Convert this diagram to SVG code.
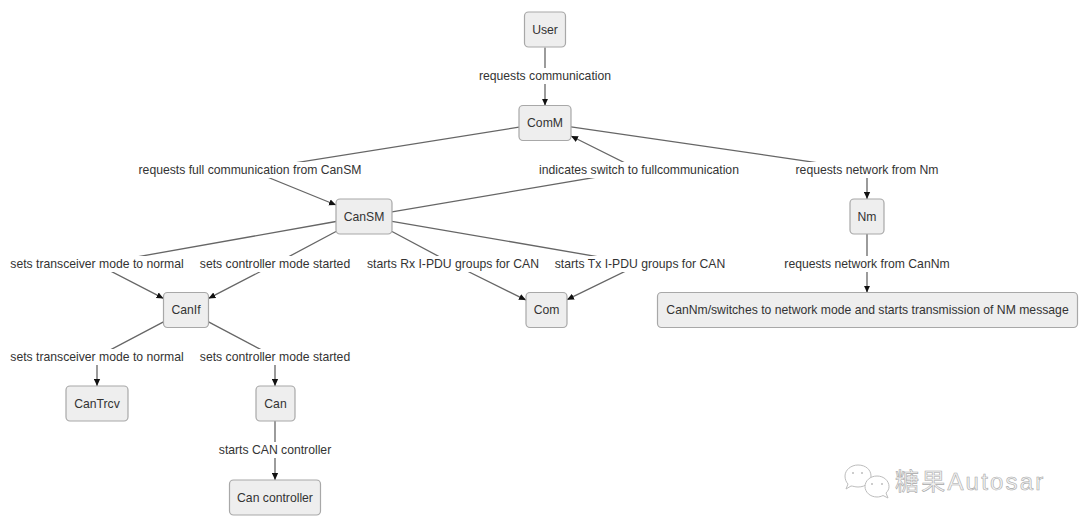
<svg xmlns="http://www.w3.org/2000/svg" width="1080" height="530" viewBox="0 0 1080 530">
<defs>
<style>
.node rect{fill:#eeeeee;stroke:#a8a8a8;stroke-width:1.2}
.node text{font-family:"Liberation Sans",Arial,sans-serif;font-size:12.2px;fill:#333;text-anchor:middle}
.edge polyline{fill:none;stroke:#666;stroke-width:1.3}
.lbl rect{fill:#fff}
.lbl text{font-family:"Liberation Sans",Arial,sans-serif;font-size:12.2px;fill:#333;text-anchor:middle}
</style>
<marker id="arr" viewBox="0 0 10 10" refX="10" refY="5" markerWidth="7" markerHeight="7" markerUnits="userSpaceOnUse" orient="auto">
<path d="M0,0.5 L10,5 L0,9.5 z" fill="#111"/>
</marker>
</defs>
<rect width="1080" height="530" fill="#fff"/>
<g id="connectors">
<g class="edge"><polyline points="545,47.5 545,105.5" marker-end="url(#arr)"/></g>
<g class="edge"><polyline points="519,127.1 250,170 336,205" marker-end="url(#arr)"/></g>
<g class="edge"><polyline points="392,211.8 639,170 571,136" marker-end="url(#arr)"/></g>
<g class="edge"><polyline points="571,126.8 867,170 867,199" marker-end="url(#arr)"/></g>
<g class="edge"><polyline points="336,221.5 97,264 163.5,298.4" marker-end="url(#arr)"/></g>
<g class="edge"><polyline points="336,231.5 275,264 208.5,298.4" marker-end="url(#arr)"/></g>
<g class="edge"><polyline points="392,231.5 453,264 526,300.1" marker-end="url(#arr)"/></g>
<g class="edge"><polyline points="392,221.3 640,264 567,299.7" marker-end="url(#arr)"/></g>
<g class="edge"><polyline points="867,234 867,292.5" marker-end="url(#arr)"/></g>
<g class="edge"><polyline points="163.5,321.9 97,357 97,386" marker-end="url(#arr)"/></g>
<g class="edge"><polyline points="208.5,321.9 275,357 275,386" marker-end="url(#arr)"/></g>
<g class="edge"><polyline points="275,421 275,480" marker-end="url(#arr)"/></g>
<g class="lbl"><rect x="478" y="68" width="134" height="16"/><text x="545" y="80">requests communication</text></g>
<g class="lbl"><rect x="137" y="162" width="226" height="16"/><text x="250" y="174">requests full communication from CanSM</text></g>
<g class="lbl"><rect x="537" y="162" width="204" height="16"/><text x="639" y="174">indicates switch to fullcommunication</text></g>
<g class="lbl"><rect x="794" y="162" width="146" height="16"/><text x="867" y="174">requests network from Nm</text></g>
<g class="lbl"><rect x="8" y="256" width="179" height="16"/><text x="97" y="268">sets transceiver mode to normal</text></g>
<g class="lbl"><rect x="198" y="256" width="155" height="16"/><text x="275" y="268">sets controller mode started</text></g>
<g class="lbl"><rect x="365" y="256" width="177" height="16"/><text x="453" y="268">starts Rx I-PDU groups for CAN</text></g>
<g class="lbl"><rect x="553" y="256" width="175" height="16"/><text x="640" y="268">starts Tx I-PDU groups for CAN</text></g>
<g class="lbl"><rect x="782" y="256" width="170" height="16"/><text x="867" y="268">requests network from CanNm</text></g>
<g class="lbl"><rect x="8" y="349" width="179" height="16"/><text x="97" y="361">sets transceiver mode to normal</text></g>
<g class="lbl"><rect x="198" y="349" width="155" height="16"/><text x="275" y="361">sets controller mode started</text></g>
<g class="lbl"><rect x="217" y="442" width="117" height="16"/><text x="275" y="454">starts CAN controller</text></g>
</g>
<g id="User" class="node"><rect x="524.5" y="12" width="41" height="35" rx="4"/><text x="545" y="33.5">User</text></g>
<g id="ComM" class="node"><rect x="519" y="105.5" width="52" height="35" rx="4"/><text x="545" y="127">ComM</text></g>
<g id="CanSM" class="node"><rect x="336" y="199" width="56" height="35" rx="4"/><text x="364" y="220.5">CanSM</text></g>
<g id="Nm" class="node"><rect x="850" y="199" width="34" height="35" rx="4"/><text x="867" y="220.5">Nm</text></g>
<g id="CanIf" class="node"><rect x="163.5" y="292.5" width="45" height="35" rx="4"/><text x="186" y="314">CanIf</text></g>
<g id="Com" class="node"><rect x="526" y="292.5" width="41" height="35" rx="4"/><text x="546.5" y="314">Com</text></g>
<g id="CanNm" class="node"><rect x="657.5" y="292.5" width="420" height="35" rx="4"/><text x="867.5" y="314">CanNm/switches to network mode and starts transmission of NM message</text></g>
<g id="CanTrcv" class="node"><rect x="66" y="386" width="62" height="35" rx="4"/><text x="97" y="407.5">CanTrcv</text></g>
<g id="Can" class="node"><rect x="256" y="386" width="39" height="35" rx="4"/><text x="275.5" y="407.5">Can</text></g>
<g id="CanController" class="node"><rect x="229.5" y="480" width="91" height="35" rx="4"/><text x="275" y="501.5">Can controller</text></g>
<g id="watermark">
<g fill="#fff" stroke="#bdbdbd" stroke-width="1">
<path d="M858,465 C866,465 871,470 871,476 C871,482 866,487 858,487 C855,487 853,486 851,486 L846,489 L848,484 C846,482 845,479 845,476 C845,470 851,465 858,465 z"/>
<path d="M877,476 C884,476 889,481 889,486.5 C889,489 888,491 886,493 L888,498 L883,495.5 C881,496.5 879,497 877,497 C870,497 865,492 865,486.5 C865,481 870,476 877,476 z"/>
</g>
<g fill="#bdbdbd"><circle cx="853" cy="473" r="1"/><circle cx="862" cy="473" r="1"/><circle cx="872" cy="484" r="1"/><circle cx="882" cy="484" r="1"/></g>
<text x="895" y="490" font-family="'Liberation Sans','Noto Sans CJK SC',sans-serif" font-size="24" letter-spacing="2.2" fill="#f4f4f4" stroke="#a8a8a8" stroke-width="0.6">糖果Autosar</text>
</g>
</svg>
